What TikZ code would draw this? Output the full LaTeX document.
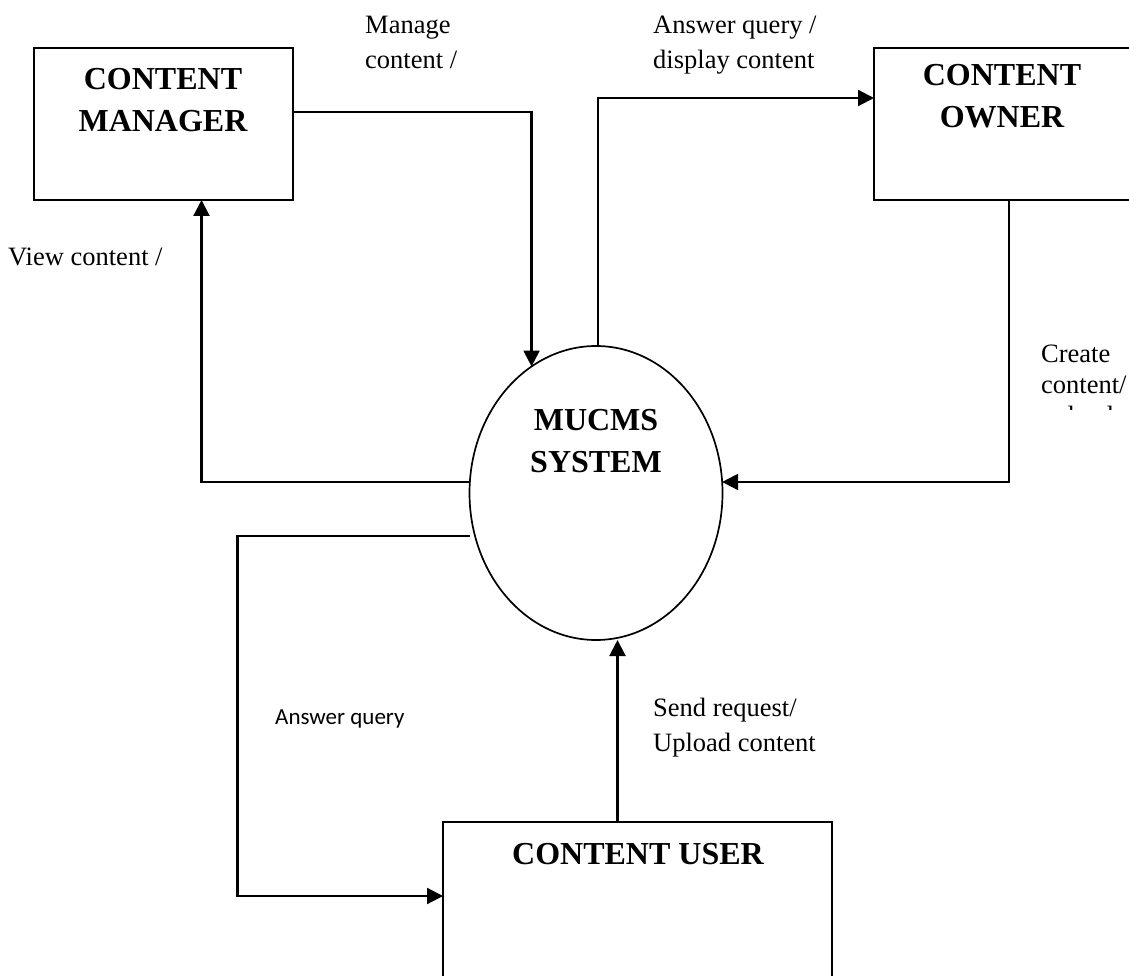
\documentclass[tikz,border=0pt]{standalone}
\usepackage{fontspec}
\setmainfont{Liberation Serif}
\newfontfamily\calib{Carlito}
\usetikzlibrary{shapes.geometric,arrows.meta}
\begin{document}
\begin{tikzpicture}[x=1pt,y=-1pt,
  box/.style={draw,line width=2pt,inner sep=0pt,outer sep=0pt},
  title/.style={font=\bfseries\fontsize{32}{42}\selectfont,align=center,inner sep=0pt},
  lbl/.style={font=\fontsize{26.5}{35}\selectfont,align=left,inner sep=0pt,anchor=north west},
  flow/.style={line width=2.2pt,-{Triangle[length=16pt,width=16pt]}}]
\useasboundingbox (0,0) rectangle (1129,976);
% boxes
\node[box,minimum width=259pt,minimum height=152pt] (mgr) at (163.5,124) {};
\node[box,minimum width=270pt,minimum height=152pt] (own) at (1009,124) {};
\node[box,minimum width=389pt,minimum height=178pt] (usr) at (637.5,911) {};
\node[draw,ellipse,line width=1.7pt,minimum width=253pt,minimum height=294pt,inner sep=0pt,outer sep=0pt] (sys) at (596,493) {};
% titles
\node[title] (mgrt) at (163,100) {CONTENT\\MANAGER};
\node[title] (ownt) at (1002,96) {CONTENT\\OWNER};
\node[title] (syst) at (596,441) {MUCMS\\SYSTEM};
\node[title] (usrt) at (638,854) {CONTENT USER};
% connectors
\draw[flow] ([yshift=12pt]mgr.east) -| (sys.117.8);
\draw[flow] ([xshift=2pt]sys.north) |- ([yshift=26pt]own.west);
\draw[flow] (own.south) |- (sys.5);
\draw[flow] (sys.175) -| ([xshift=38pt]mgr.south);
\draw[flow] ([yshift=-43pt]sys.west) -- ++(-232,0) |- ([yshift=15pt]usr.west);
\draw[flow] ([xshift=-20pt]usr.north) -- ([xshift=-20pt]usr.north |- sys.south);
% labels
\node[lbl] (l1) at (365,16) {Manage\\content /};
\node[lbl] (l2) at (653,16) {Answer query /\\display content};
\node[lbl] (l3) at (8,248) {View content /};
\node[lbl] (l4) at (653,698) {Send request/\\Upload content};
\node[lbl,font=\calib\fontsize{23}{28}\selectfont] (l5) at (275,710) {Answer query};
\begin{scope}
\clip (1030,330) rectangle (1140,409);
\node[lbl,font=\fontsize{26.5}{31}\selectfont] (l6) at (1041,345) {Create\\content/\\upload};
\end{scope}
\end{tikzpicture}
\end{document}
